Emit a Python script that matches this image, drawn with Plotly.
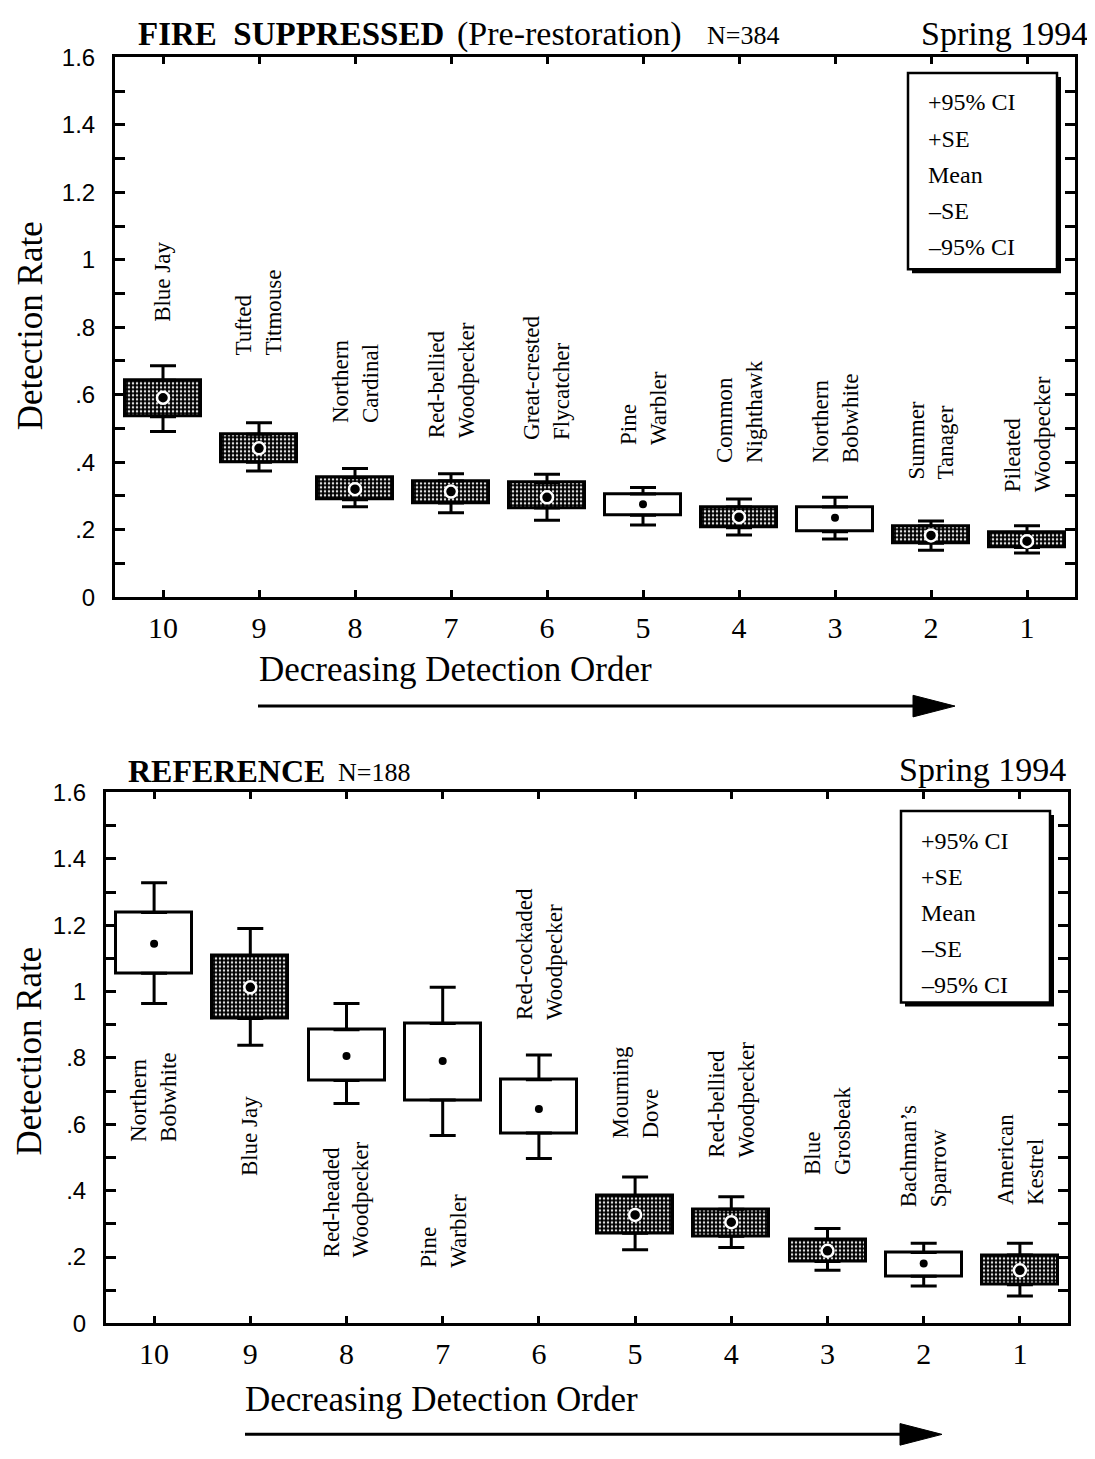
import plotly.graph_objects as go

W, H = 1095, 1459
OFF = 8  # page body margin
SERIF = "Liberation Serif, Times New Roman, serif"
SANS = "Liberation Sans, Arial, sans-serif"

orders = [10, 9, 8, 7, 6, 5, 4, 3, 2, 1]

# FIRE SUPPRESSED (Pre-restoration) N=384, Spring 1994
fs_species = ["Blue Jay", "Tufted<br>Titmouse", "Northern<br>Cardinal",
              "Red-bellied<br>Woodpecker", "Great-crested<br>Flycatcher",
              "Pine<br>Warbler", "Common<br>Nighthawk", "Northern<br>Bobwhite",
              "Summer<br>Tanager", "Pileated<br>Woodpecker"]
fs_ci_hi = [0.686, 0.517, 0.381, 0.366, 0.364, 0.325, 0.291, 0.296, 0.226, 0.212]
fs_se_hi = [0.643, 0.483, 0.354, 0.344, 0.339, 0.306, 0.267, 0.267, 0.211, 0.191]
fs_mean = [0.591, 0.441, 0.320, 0.313, 0.296, 0.275, 0.237, 0.235, 0.183, 0.166]
fs_se_lo = [0.535, 0.400, 0.289, 0.279, 0.264, 0.243, 0.206, 0.194, 0.160, 0.147]
fs_ci_lo = [0.491, 0.374, 0.268, 0.250, 0.228, 0.214, 0.184, 0.172, 0.139, 0.131]
fs_shaded = [True, True, True, True, True, False, True, False, True, True]
fs_label_y = [0.81, 0.71, 0.51, 0.465, 0.46, 0.445, 0.39, 0.39, 0.343, 0.305]
fs_label_side = ["above"] * 10

# REFERENCE N=188, Spring 1994
ref_species = ["Northern<br>Bobwhite", "Blue Jay", "Red-headed<br>Woodpecker",
               "Pine<br>Warbler", "Red-cockaded<br>Woodpecker", "Mourning<br>Dove",
               "Red-bellied<br>Woodpecker", "Blue<br>Grosbeak",
               "Bachman’s<br>Sparrow", "American<br>Kestrel"]
ref_ci_hi = [1.328, 1.190, 0.964, 1.013, 0.809, 0.441, 0.382, 0.286, 0.242, 0.242]
ref_se_hi = [1.238, 1.109, 0.885, 0.904, 0.734, 0.385, 0.344, 0.253, 0.214, 0.206]
ref_mean = [1.144, 1.013, 0.806, 0.791, 0.646, 0.327, 0.305, 0.219, 0.181, 0.160]
ref_se_lo = [1.055, 0.919, 0.732, 0.673, 0.574, 0.272, 0.263, 0.187, 0.142, 0.117]
ref_ci_lo = [0.964, 0.838, 0.663, 0.566, 0.497, 0.222, 0.229, 0.160, 0.113, 0.083]
ref_shaded = [False, True, False, False, False, True, True, True, False, True]
ref_label_y = [0.82, 0.692, 0.553, 0.396, 0.908, 0.55, 0.494, 0.441, 0.343, 0.352]
ref_label_side = ["below"] * 4 + ["above"] * 6

y_ticks = [0, 0.2, 0.4, 0.6, 0.8, 1.0, 1.2, 1.4, 1.6]
y_ticktext = ["0", ".2", ".4", ".6", ".8", "1", "1.2", "1.4", "1.6"]
legend_lines = ["+95% CI", "+SE", "Mean", "–SE", "–95% CI"]


def px(x):
    return (x - OFF) / W


def py(y):
    return 1 - (y - OFF) / H


fig = go.Figure()


def add_panel(xa, ya, species, ci_hi, se_hi, mean, se_lo, ci_lo, shaded,
              label_y, label_side):
    for flag in (True, False):
        idx = [i for i in range(len(orders)) if shaded[i] == flag]
        xs = [orders[i] for i in idx]
        base = [se_lo[i] for i in idx]
        hgt = [se_hi[i] - se_lo[i] for i in idx]
        if flag:
            marker = dict(color="black", line=dict(color="black", width=3),
                          pattern=dict(shape=".", fgcolor="#e0e0e0", bgcolor="black",
                                       size=4, solidity=0.3, fillmode="replace"))
        else:
            marker = dict(color="white", line=dict(color="black", width=3))
        fig.add_trace(go.Bar(x=xs, y=hgt, base=base, width=0.79, marker=marker,
                             xaxis=xa, yaxis=ya, showlegend=False, hoverinfo="skip"))
    # whiskers: +SE -> +95% CI and -SE -> -95% CI
    fig.add_trace(go.Scatter(
        x=orders, y=se_hi, mode="markers",
        marker=dict(size=1, color="rgba(0,0,0,0)"),
        error_y=dict(type="data", symmetric=False,
                     array=[c - s for c, s in zip(ci_hi, se_hi)],
                     arrayminus=[0] * len(orders),
                     thickness=3, width=13, color="black"),
        xaxis=xa, yaxis=ya, showlegend=False, hoverinfo="skip"))
    fig.add_trace(go.Scatter(
        x=orders, y=se_lo, mode="markers",
        marker=dict(size=1, color="rgba(0,0,0,0)"),
        error_y=dict(type="data", symmetric=False,
                     array=[0] * len(orders),
                     arrayminus=[s - c for s, c in zip(se_lo, ci_lo)],
                     thickness=3, width=13, color="black"),
        xaxis=xa, yaxis=ya, showlegend=False, hoverinfo="skip"))
    # means
    for flag in (True, False):
        idx = [i for i in range(len(orders)) if shaded[i] == flag]
        if flag:
            mk = dict(size=12, color="black", line=dict(color="white", width=2.5))
        else:
            mk = dict(size=8, color="black")
        fig.add_trace(go.Scatter(x=[orders[i] for i in idx], y=[mean[i] for i in idx],
                                 mode="markers", marker=mk, xaxis=xa, yaxis=ya,
                                 showlegend=False, hoverinfo="skip"))
    # species labels
    for i, name in enumerate(species):
        fig.add_annotation(x=orders[i], y=label_y[i], xref=xa, yref=ya, text=name,
                           textangle=-90, showarrow=False, align="left",
                           xanchor="center",
                           yanchor="bottom" if label_side[i] == "above" else "top",
                           font=dict(family=SERIF, size=23, color="black"))


add_panel("x", "y", fs_species, fs_ci_hi, fs_se_hi, fs_mean, fs_se_lo, fs_ci_lo,
          fs_shaded, fs_label_y, fs_label_side)
add_panel("x2", "y2", ref_species, ref_ci_hi, ref_se_hi, ref_mean, ref_se_lo,
          ref_ci_lo, ref_shaded, ref_label_y, ref_label_side)

xaxis_style = dict(range=[10.5, 0.5], tickvals=orders, ticktext=[str(o) for o in orders],
                   showline=True, linewidth=3, linecolor="black", mirror="ticks",
                   ticks="inside", ticklen=7, tickwidth=3, tickcolor="black",
                   showgrid=False, zeroline=False, ticklabelstandoff=2,
                   tickfont=dict(family=SERIF, size=30, color="black"))
yaxis_style = dict(range=[0, 1.6], tickvals=y_ticks, ticktext=y_ticktext,
                   showline=True, linewidth=3, linecolor="black", mirror="ticks",
                   ticks="inside", ticklen=10, tickwidth=3, tickcolor="black",
                   minor=dict(dtick=0.1, ticks="inside", ticklen=10, tickwidth=3,
                              tickcolor="black", showgrid=False),
                   showgrid=False, zeroline=False, ticklabelstandoff=12,
                   tickfont=dict(family=SANS, size=24, color="black"))

fig.update_layout(
    width=W, height=H, margin=dict(l=0, r=0, t=0, b=0),
    paper_bgcolor="white", plot_bgcolor="white", bargap=0,
    xaxis=dict(domain=[px(115), px(1075)], anchor="y", **xaxis_style),
    yaxis=dict(domain=[py(594), py(44)], anchor="x", **yaxis_style),
    xaxis2=dict(domain=[px(106), px(1068)], anchor="y2", **xaxis_style),
    yaxis2=dict(domain=[py(1334), py(793)], anchor="x2", **yaxis_style),
)


def text(x, y, s, size, xanchor="left", angle=0, yanchor="middle", family=SERIF):
    fig.add_annotation(x=px(x), y=py(y), xref="paper", yref="paper", text=s,
                       showarrow=False, xanchor=xanchor, yanchor=yanchor,
                       textangle=angle, font=dict(family=family, size=size, color="black"))


# titles
text(136, 20, "<b>FIRE  SUPPRESSED</b>", 33)
text(455, 20, "(Pre-restoration)", 34)
text(705, 22, "N=384", 26)
text(1090, 20, "Spring 1994", 34, xanchor="right")
text(126, 771, "<b>REFERENCE</b>", 32)
text(336, 773, "N=188", 26)
text(1068, 770, "Spring 1994", 34, xanchor="right")

# axis titles
text(30, 318, "Detection Rate", 35, xanchor="center", angle=-90)
text(30, 1057, "Detection Rate", 35, xanchor="center", angle=-90)
text(455, 668, "Decreasing Detection Order", 35, xanchor="center")
text(441, 1411, "Decreasing Detection Order", 35, xanchor="center")

shapes = []
# arrows under axis titles
for (x0, x1, y) in [(258, 955, 705), (245, 942, 1447)]:
    shapes.append(dict(type="line", xref="paper", yref="paper",
                       x0=px(x0), x1=px(x1 - 30), y0=py(y), y1=py(y),
                       line=dict(color="black", width=3)))
    shapes.append(dict(type="path", xref="paper", yref="paper",
                       path=f"M {px(x1 - 42)} {py(y - 11)} L {px(x1)} {py(y)} "
                            f"L {px(x1 - 42)} {py(y + 11)} Z",
                       fillcolor="black", line=dict(color="black", width=1)))

# legend boxes with drop shadow
for (x0, y0, x1, y1) in [(908, 60, 1057, 260), (901, 812, 1050, 1007)]:
    shapes.append(dict(type="rect", xref="paper", yref="paper",
                       x0=px(x0 + 4), x1=px(x1 + 4), y0=py(y0 + 4), y1=py(y1 + 4),
                       fillcolor="black", line=dict(width=0)))
    shapes.append(dict(type="rect", xref="paper", yref="paper",
                       x0=px(x0), x1=px(x1), y0=py(y0), y1=py(y1),
                       fillcolor="white", line=dict(color="black", width=2.5)))
    for k, s in enumerate(legend_lines):
        text(x0 + 18, y0 + 30 + k * 36.7, s, 24)

fig.update_layout(shapes=shapes)
fig.write_html("out.html")
